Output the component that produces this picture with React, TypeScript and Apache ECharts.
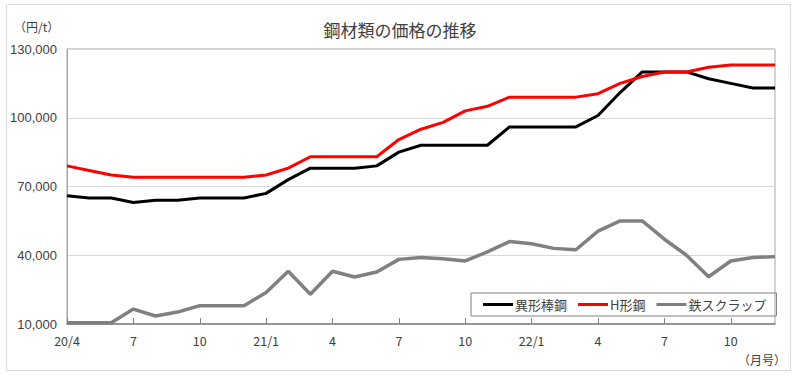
import React, { useEffect, useRef } from "react";
import * as echarts from "echarts";

const categories = [
  "20/4", "5", "6", "7", "8", "9", "10", "11", "12",
  "21/1", "2", "3", "4", "5", "6", "7", "8", "9", "10", "11", "12",
  "22/1", "2", "3", "4", "5", "6", "7", "8", "9", "10", "11", "12",
];

const deformedBar = [
  66000, 65000, 65000, 63000, 64000, 64000, 65000, 65000, 65000,
  67000, 73000, 78000, 78000, 78000, 79000, 85000, 88000, 88000, 88000, 88000, 96000,
  96000, 96000, 96000, 101000, 111000, 120000, 120000, 120000, 117000, 115000, 113000, 113000,
];

const hBeam = [
  79000, 77000, 75000, 74000, 74000, 74000, 74000, 74000, 74000,
  75000, 78000, 83000, 83000, 83000, 83000, 90500, 95000, 98000, 103000, 105000, 109000,
  109000, 109000, 109000, 110500, 115000, 118000, 120000, 120000, 122000, 123000, 123000, 123000,
];

const scrap = [
  10500, 10500, 10500, 16500, 13500, 15200, 18000, 18000, 18000,
  23700, 33000, 23000, 33000, 30500, 32700, 38200, 39000, 38500, 37500, 41500, 46000,
  45000, 43000, 42400, 50500, 55000, 55000, 47000, 40000, 30600, 37500, 39000, 39400,
];

const seriesNames = ["異形棒鋼", "H形鋼", "鉄スクラップ"];
const title = "鋼材類の価格の推移";
const unitLabel = "（円/t）";
const xUnitLabel = "（月号）";

const FONT = "'Liberation Sans', 'Noto Sans CJK JP', sans-serif";
const JFONT = "'Noto Sans CJK JP', sans-serif";

export default function App() {
  const ref = useRef<HTMLDivElement>(null);
  useEffect(() => {
    if (!ref.current) return;
    const chart = echarts.init(ref.current, undefined, { renderer: "svg" });
    chart.setOption({
      animation: false,
      backgroundColor: "#ffffff",
      title: {
        text: title,
        left: "center",
        top: 16,
        textStyle: { fontFamily: JFONT, fontSize: 17, fontWeight: "normal", color: "#404040" },
      },
      graphic: [
        {
          type: "rect",
          shape: { x: 6.5, y: 4.5, width: 784, height: 366 },
          style: { fill: "none", stroke: "#d9d9d9", lineWidth: 1 },
          silent: true,
        },
        {
          type: "text",
          left: 14,
          top: 20,
          style: { text: unitLabel, fontFamily: JFONT, fontSize: 12, fill: "#404040" },
        },
        {
          type: "text",
          left: 738,
          top: 353,
          style: { text: xUnitLabel, fontFamily: JFONT, fontSize: 12, fill: "#404040" },
        },
      ],
      legend: {
        data: seriesNames,
        left: 471,
        top: 293,
        icon: "rect",
        itemWidth: 30,
        itemHeight: 3,
        itemGap: 11,
        padding: [5, 10, 5, 12],
        borderColor: "#808080",
        borderWidth: 1,
        textStyle: { fontFamily: JFONT, fontSize: 13, color: "#404040", padding: [0, 0, 0, -3] },
      },
      grid: {
        left: 67,
        right: 25,
        top: 49,
        bottom: 53,
        show: true,
        borderColor: "#a6a6a6",
        borderWidth: 1,
      },
      xAxis: {
        type: "category",
        data: categories,
        boundaryGap: false,
        axisLine: { lineStyle: { color: "#808080", width: 1.5 } },
        axisTick: { interval: 2, inside: true, length: 6, lineStyle: { color: "#808080" } },
        axisLabel: {
          interval: 2,
          margin: 10,
          fontFamily: JFONT,
          fontSize: 12.5,
          color: "#404040",
        },
        splitLine: { show: false },
      },
      yAxis: {
        type: "value",
        min: 10000,
        max: 130000,
        interval: 30000,
        axisLine: { show: true, lineStyle: { color: "#a6a6a6" } },
        axisTick: { show: false },
        axisLabel: {
          margin: 10,
          fontFamily: FONT,
          fontSize: 13,
          color: "#404040",
          formatter: (v: number) => v.toLocaleString("en-US"),
        },
        splitLine: { lineStyle: { color: "#d9d9d9" } },
      },
      series: [
        {
          name: seriesNames[0],
          type: "line",
          data: deformedBar,
          symbol: "none",
          color: "#000000",
          lineStyle: { color: "#000000", width: 3 },
          z: 3,
        },
        {
          name: seriesNames[1],
          type: "line",
          data: hBeam,
          symbol: "none",
          color: "#ff0000",
          lineStyle: { color: "#ff0000", width: 3 },
          z: 4,
        },
        {
          name: seriesNames[2],
          type: "line",
          data: scrap,
          symbol: "none",
          color: "#808080",
          lineStyle: { color: "#808080", width: 3.5 },
          z: 2,
        },
      ],
    });
    return () => chart.dispose();
  }, []);
  return (
    <div
      ref={ref}
      style={{ position: "absolute", left: 0, top: 0, width: 800, height: 377 }}
    />
  );
}
